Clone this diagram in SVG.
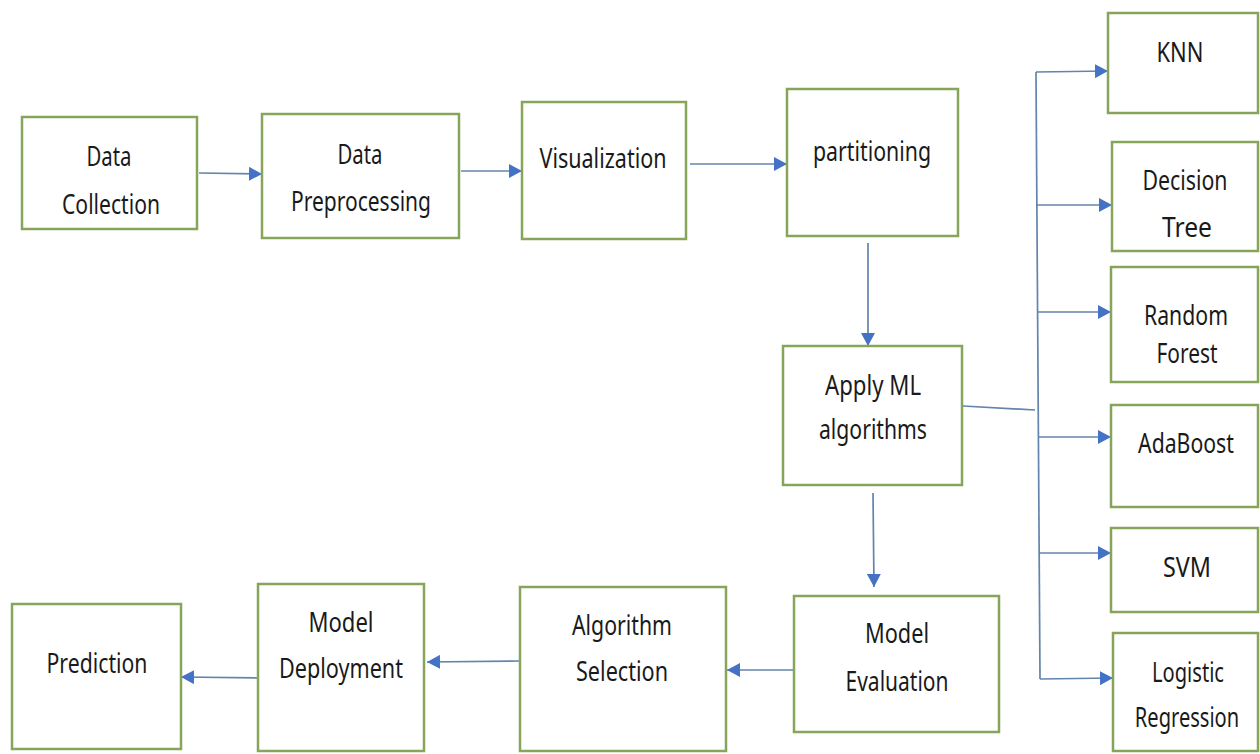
<svg xmlns="http://www.w3.org/2000/svg" width="1260" height="754" viewBox="0 0 1260 754">
  <defs>
    <marker id="arrow" viewBox="0 0 13 14" refX="13" refY="7" markerWidth="13" markerHeight="14" markerUnits="userSpaceOnUse" orient="auto">
      <path d="M0,0 L13,7 L0,14 Z" fill="#4472c4"/>
    </marker>
    <style>
      .box { fill: #ffffff; stroke: #86a55a; stroke-width: 2.5; }
      .lbl { font-family: "Noto Sans", "Open Sans", "Liberation Sans", sans-serif; font-size: 28px; fill: #1a1a1a; text-anchor: middle; }
      .conn { fill: none; stroke: #6284ad; stroke-width: 1.7; }
      .arr { marker-end: url(#arrow); }
    </style>
  </defs>
  <rect width="1260" height="754" fill="#ffffff"/>

  <!-- connectors -->
  <g id="connectors">
    <line class="conn arr" x1="199" y1="173" x2="262" y2="174"/>
    <line class="conn arr" x1="461" y1="171" x2="522" y2="171"/>
    <line class="conn arr" x1="690" y1="164" x2="787" y2="164"/>
    <line class="conn arr" x1="868" y1="243" x2="868" y2="346"/>
    <line class="conn arr" x1="873" y1="493" x2="874" y2="587"/>
    <line class="conn arr" x1="794" y1="670" x2="727" y2="670"/>
    <line class="conn arr" x1="520" y1="661" x2="427" y2="662"/>
    <line class="conn arr" x1="258" y1="678" x2="181" y2="677"/>
    <!-- fan-out to the algorithm boxes -->
    <line class="conn" x1="963" y1="406" x2="1035" y2="410"/>
    <line class="conn" x1="1036" y1="72" x2="1040" y2="679"/>
    <line class="conn arr" x1="1036" y1="72" x2="1108" y2="71"/>
    <line class="conn arr" x1="1037" y1="205" x2="1112" y2="205"/>
    <line class="conn arr" x1="1038" y1="312" x2="1111" y2="312"/>
    <line class="conn arr" x1="1038" y1="437" x2="1111" y2="437"/>
    <line class="conn arr" x1="1039" y1="553" x2="1111" y2="553"/>
    <line class="conn arr" x1="1040" y1="679" x2="1113" y2="678"/>
  </g>

  <g id="data-collection">
    <rect class="box" x="22" y="117" width="175" height="112"/>
    <text class="lbl" x="109" y="166" textLength="45" lengthAdjust="spacingAndGlyphs">Data</text>
    <text class="lbl" x="111" y="214" textLength="98" lengthAdjust="spacingAndGlyphs">Collection</text>
  </g>

  <g id="data-preprocessing">
    <rect class="box" x="262" y="114" width="197" height="124"/>
    <text class="lbl" x="360" y="164" textLength="45" lengthAdjust="spacingAndGlyphs">Data</text>
    <text class="lbl" x="361" y="211" textLength="140" lengthAdjust="spacingAndGlyphs">Preprocessing</text>
  </g>

  <g id="visualization">
    <rect class="box" x="522" y="102" width="164" height="137"/>
    <text class="lbl" x="603" y="168" textLength="127" lengthAdjust="spacingAndGlyphs">Visualization</text>
  </g>

  <g id="partitioning">
    <rect class="box" x="787" y="89" width="171" height="147"/>
    <text class="lbl" x="872" y="161" textLength="118" lengthAdjust="spacingAndGlyphs">partitioning</text>
  </g>

  <g id="apply-ml">
    <rect class="box" x="783" y="346" width="179" height="139"/>
    <text class="lbl" x="873" y="395" textLength="96" lengthAdjust="spacingAndGlyphs">Apply ML</text>
    <text class="lbl" x="873" y="439" textLength="108" lengthAdjust="spacingAndGlyphs">algorithms</text>
  </g>

  <g id="knn">
    <rect class="box" x="1108" y="13" width="150" height="100"/>
    <text class="lbl" x="1180" y="62" textLength="47" lengthAdjust="spacingAndGlyphs">KNN</text>
  </g>

  <g id="decision-tree">
    <rect class="box" x="1112" y="142" width="146" height="109"/>
    <text class="lbl" x="1185" y="190" textLength="85" lengthAdjust="spacingAndGlyphs">Decision</text>
    <text class="lbl" x="1187" y="237" textLength="50" lengthAdjust="spacingAndGlyphs">Tree</text>
  </g>

  <g id="random-forest">
    <rect class="box" x="1111" y="267" width="147" height="115"/>
    <text class="lbl" x="1186" y="325" textLength="84" lengthAdjust="spacingAndGlyphs">Random</text>
    <text class="lbl" x="1187" y="363" textLength="61" lengthAdjust="spacingAndGlyphs">Forest</text>
  </g>

  <g id="adaboost">
    <rect class="box" x="1111" y="405" width="147" height="102"/>
    <!-- narrow label: squeezed horizontally so it sits well inside the box -->
    <text class="lbl" transform="translate(1186,453) scale(0.7,1)" x="0" y="0" textLength="137" lengthAdjust="spacingAndGlyphs">AdaBoost</text>
  </g>

  <g id="svm">
    <rect class="box" x="1111" y="528" width="147" height="84"/>
    <text class="lbl" x="1187" y="577" textLength="48" lengthAdjust="spacingAndGlyphs">SVM</text>
  </g>

  <g id="logistic-regression">
    <rect class="box" x="1113" y="633" width="145" height="118"/>
    <text class="lbl" x="1188" y="682" textLength="72" lengthAdjust="spacingAndGlyphs">Logistic</text>
    <text class="lbl" transform="translate(1187,727) scale(0.7,1)" x="0" y="0" textLength="149" lengthAdjust="spacingAndGlyphs">Regression</text>
  </g>

  <g id="model-evaluation">
    <rect class="box" x="794" y="596" width="205" height="136"/>
    <text class="lbl" x="897" y="643" textLength="64" lengthAdjust="spacingAndGlyphs">Model</text>
    <text class="lbl" x="897" y="691" textLength="103" lengthAdjust="spacingAndGlyphs">Evaluation</text>
  </g>

  <g id="algorithm-selection">
    <rect class="box" x="520" y="587" width="206" height="164"/>
    <text class="lbl" x="622" y="635" textLength="100" lengthAdjust="spacingAndGlyphs">Algorithm</text>
    <text class="lbl" x="622" y="681" textLength="92" lengthAdjust="spacingAndGlyphs">Selection</text>
  </g>

  <g id="model-deployment">
    <rect class="box" x="258" y="584" width="166" height="167"/>
    <text class="lbl" x="341" y="632" textLength="65" lengthAdjust="spacingAndGlyphs">Model</text>
    <text class="lbl" x="341" y="678" textLength="124" lengthAdjust="spacingAndGlyphs">Deployment</text>
  </g>

  <g id="prediction">
    <rect class="box" x="12" y="604" width="169" height="145"/>
    <text class="lbl" x="97" y="673" textLength="101" lengthAdjust="spacingAndGlyphs">Prediction</text>
  </g>
</svg>
